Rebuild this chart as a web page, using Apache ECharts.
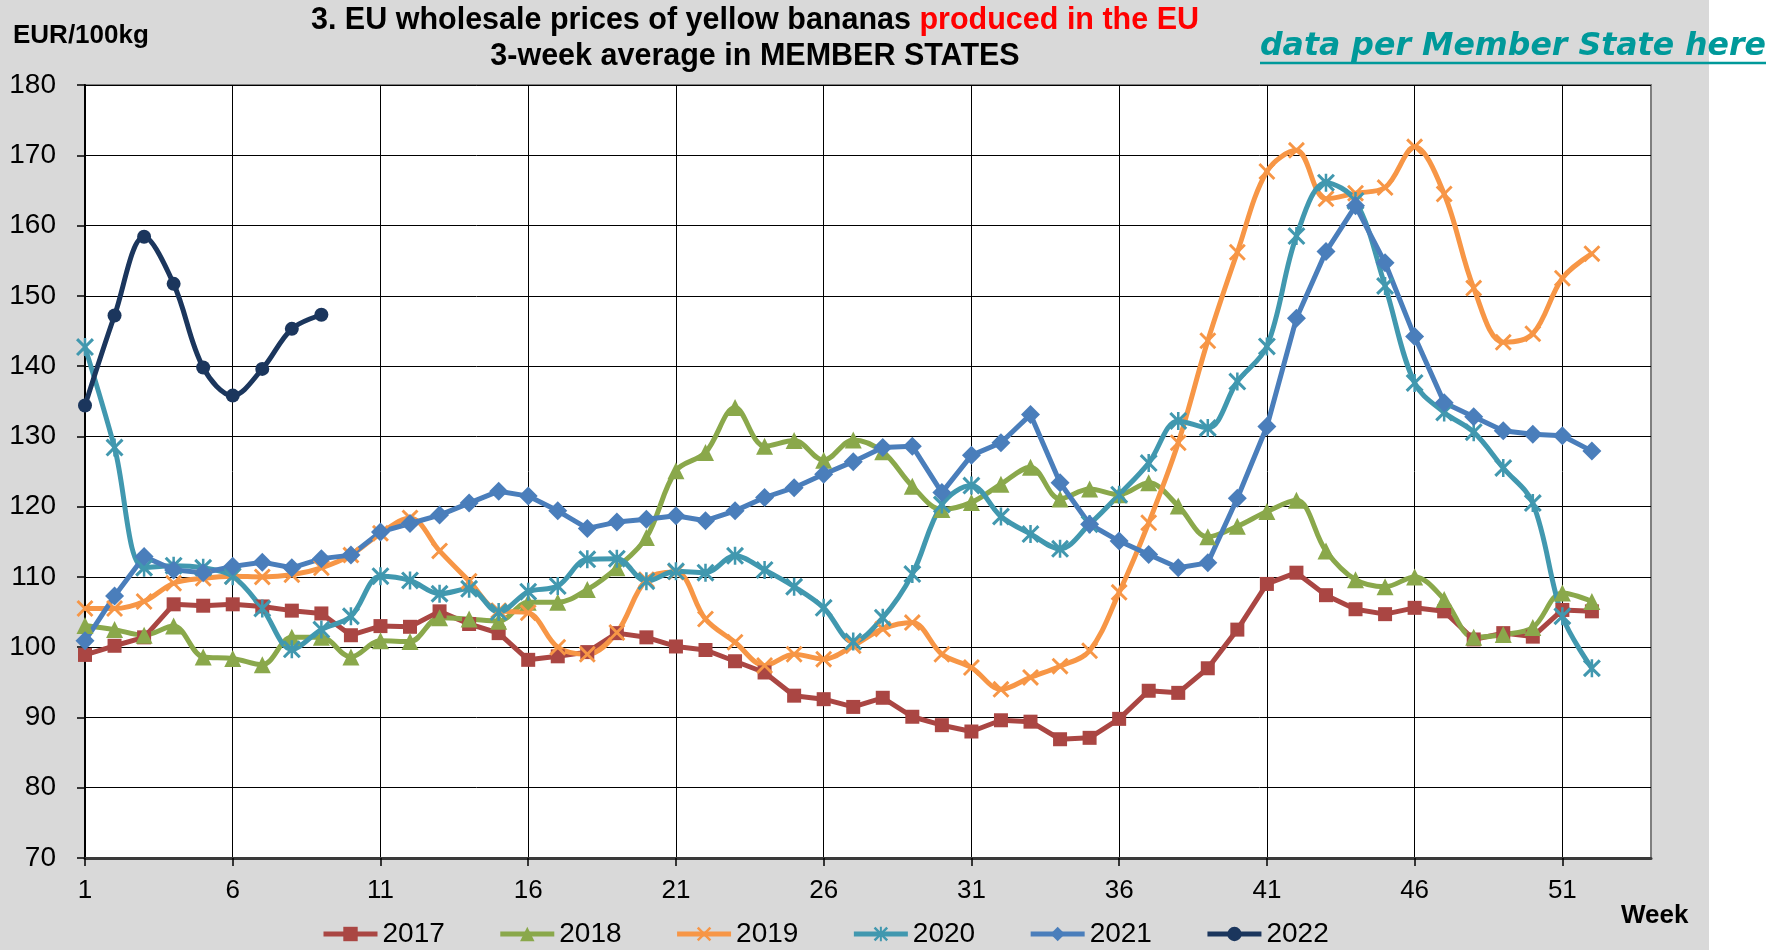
<!DOCTYPE html>
<html>
<head>
<meta charset="utf-8">
<script src="https://cdn.jsdelivr.net/npm/echarts@6/dist/echarts.min.js"></script>
<style>
  html, body { margin: 0; padding: 0; background: #fff; }
  #chart { width: 1772px; height: 950px; background: linear-gradient(to right, #d9d9d9 1709px, #fff 1709px); }
</style>
</head>
<body>
<div id="chart"></div>
<script>
  // week categories (axis runs one past the data, to week 54)
  const weeks = ['1','2','3','4','5','6','7','8','9','10','11','12','13','14','15','16','17','18',
    '19','20','21','22','23','24','25','26','27','28','29','30','31','32','33','34','35','36',
    '37','38','39','40','41','42','43','44','45','46','47','48','49','50','51','52','53','54']

  const y2017 = [98.9,100.2,101.4,106.1,105.9,106.1,105.8,105.2,104.8,101.7,
    103.0,102.9,105.1,103.3,102.0,98.2,98.7,99.3,102.0,101.4,
    100.1,99.6,98.0,96.4,93.1,92.6,91.5,92.8,90.1,88.9,
    88.0,89.6,89.4,86.9,87.1,89.8,93.8,93.5,97.0,102.5,
    109.0,110.6,107.4,105.4,104.7,105.6,105.1,101.1,102.0,101.5,
    105.3,105.1]
  const y2018 = [103.1,102.5,101.7,103.0,98.6,98.4,97.5,101.4,101.4,98.6,
    100.9,100.8,104.2,104.0,103.7,106.4,106.4,108.2,111.3,115.6,
    125.1,127.7,134.1,128.6,129.4,126.6,129.5,127.8,122.9,119.6,
    120.6,123.2,125.6,121.1,122.5,121.7,123.4,120.1,115.7,117.2,
    119.3,120.9,113.7,109.6,108.6,110.0,106.8,101.4,101.8,102.8,
    107.7,106.5]
  const y2019 = [105.5,105.5,106.5,109.1,109.8,110.1,110.0,110.3,111.3,113.1,
    116.2,118.4,113.7,109.4,105.2,104.9,100.0,99.0,102.1,109.6,
    110.7,104.0,100.7,97.4,99.0,98.3,100.2,102.6,103.5,99.0,
    97.1,94.0,95.7,97.3,99.5,107.8,117.7,129.1,143.6,156.2,
    167.7,170.7,163.8,164.6,165.4,171.2,164.5,151.1,143.4,144.6,
    152.5,156.0]
  const y2020 = [142.7,128.4,111.3,111.6,111.3,110.1,105.5,99.7,102.5,104.4,
    110.1,109.5,107.6,108.3,105.0,107.9,108.7,112.5,112.6,109.4,
    110.8,110.6,113.0,111.0,108.6,105.6,100.8,104.2,110.4,120.3,
    123.0,118.6,116.1,114.0,117.5,121.7,126.2,132.2,131.2,137.8,
    142.8,158.5,166.1,163.5,151.4,137.6,133.4,130.6,125.5,120.5,
    104.4,97.0]
  const y2021 = [100.9,107.3,112.9,111.0,110.6,111.5,112.1,111.3,112.6,113.1,
    116.4,117.6,118.8,120.5,122.2,121.5,119.4,116.9,117.8,118.2,
    118.7,118.0,119.4,121.3,122.7,124.6,126.4,128.4,128.6,122.0,
    127.3,129.1,133.1,123.4,117.5,115.1,113.2,111.3,112.0,121.2,
    131.4,146.8,156.3,162.8,154.7,144.2,134.8,132.8,130.8,130.3,
    130.1,127.9]
  const y2022 = [134.4,147.2,158.4,151.7,139.8,135.8,139.6,145.3,147.3]

  const yMin = 70, yMax = 180, yStep = 10

  const FONT = '"Liberation Sans", Arial, sans-serif'
  // marker shapes for 2019 (x) and 2020 (asterisk)
  const crossPath = 'path://M0,1.2L1.2,0L5,3.8L8.8,0L10,1.2L6.2,5L10,8.8L8.8,10L5,6.2L1.2,10L0,8.8L3.8,5Z'
  const starPath = 'path://M0,1.2L1.2,0L5,3.8L8.8,0L10,1.2L6.2,5L10,8.8L8.8,10L5,6.2L1.2,10L0,8.8L3.8,5Z' +
    'M4.3,0L5.7,0L5.7,10L4.3,10Z'

  function lineSeries(name, data, color, symbol, size, smooth) {
    return {
      name: name,
      type: 'line',
      data: data,
      smooth: smooth ? 0.35 : false,
      symbol: symbol,
      symbolSize: size,
      showAllSymbol: true,
      lineStyle: { color: color, width: 5 },
      itemStyle: { color: color },
      emphasis: { disabled: true },
      animation: false
    }
  }

  const chart = echarts.init(document.getElementById('chart'))

  chart.setOption({
    textStyle: { fontFamily: FONT },
    grid: {
      left: 85,
      right: 121,
      top: 85,
      bottom: 92,
      show: true,
      backgroundColor: '#fff',
      borderColor: '#7f7f7f',
      borderWidth: 2
    },
    legend: {
      left: 316,
      top: 915,
      itemWidth: 54,
      itemHeight: 18,
      itemGap: 53,
      lineStyle: { width: 5 },
      textStyle: { fontSize: 28, color: '#000', fontFamily: FONT },
      data: ['2017', '2018', '2019', '2020', '2021', '2022']
    },
    xAxis: {
      type: 'category',
      data: weeks,
      boundaryGap: false,
      axisLine: { lineStyle: { color: '#3a3a3a', width: 3 } },
      axisTick: { show: true, interval: 4, length: 8, lineStyle: { color: '#000', width: 1.5 } },
      axisLabel: { interval: 4, fontSize: 26, color: '#000', margin: 20, fontFamily: FONT },
      splitLine: { show: true, interval: 4, lineStyle: { color: '#000', width: 1 } }
    },
    yAxis: {
      type: 'value',
      min: yMin,
      max: yMax,
      interval: yStep,
      axisLine: { show: true, lineStyle: { color: '#000', width: 2 } },
      axisTick: { show: true, length: 8, lineStyle: { color: '#000', width: 1.5 } },
      axisLabel: { fontSize: 28, color: '#000', margin: 29, fontFamily: FONT },
      splitLine: { show: true, lineStyle: { color: '#000', width: 1 } }
    },
    graphic: [
      {
        type: 'text', x: 755, y: 21,
        style: {
          text: '{a|3. EU wholesale prices of yellow bananas }{b|produced in the EU}',
          textAlign: 'center', textVerticalAlign: 'middle',
          rich: {
            a: { fontFamily: FONT, fontSize: 30.5, fontWeight: 'bold', fill: '#000' },
            b: { fontFamily: FONT, fontSize: 30.5, fontWeight: 'bold', fill: '#ff0000' }
          }
        }
      },
      {
        type: 'text', x: 755, y: 57,
        style: {
          text: '3-week average in MEMBER STATES',
          textAlign: 'center', textVerticalAlign: 'middle',
          font: 'bold 30.5px ' + FONT, fill: '#000'
        }
      },
      {
        type: 'text', x: 13, y: 36,
        style: {
          text: 'EUR/100kg', textVerticalAlign: 'middle',
          font: 'bold 26px ' + FONT, fill: '#000'
        }
      },
      {
        type: 'text', x: 1260, y: 47,
        style: {
          text: 'data per Member State here', textVerticalAlign: 'middle',
          font: 'italic bold 31.6px "DejaVu Sans", Verdana, sans-serif', fill: '#00999a'
        }
      },
      {
        type: 'line',
        shape: { x1: 1260, y1: 63, x2: 1766, y2: 63 },
        style: { stroke: '#00999a', lineWidth: 2.5 }
      },
      {
        type: 'text', x: 1621, y: 916,
        style: {
          text: 'Week', textVerticalAlign: 'middle',
          font: 'bold 26px ' + FONT, fill: '#000'
        }
      }
    ],
    series: [
      lineSeries('2017', y2017, '#aa4643', 'rect', 14, false),
      lineSeries('2018', y2018, '#8aa84b', 'triangle', 17, true),
      lineSeries('2019', y2019, '#f79646', crossPath, 17, true),
      lineSeries('2020', y2020, '#4198af', starPath, 18, true),
      lineSeries('2021', y2021, '#4a7ebb', 'diamond', 19, false),
      lineSeries('2022', y2022, '#1b365d', 'circle', 14, true)
    ]
  })
</script>
</body>
</html>
